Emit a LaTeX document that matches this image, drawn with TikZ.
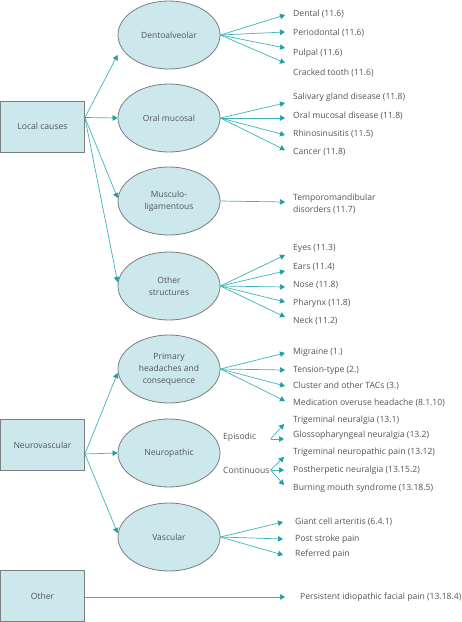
\documentclass[tikz,border=0pt]{standalone}
\usepackage{fontspec}
\setmainfont{Open Sans}
\usetikzlibrary{arrows.meta,shapes.geometric,calc}
\definecolor{teal1}{HTML}{3DB3BB}
\definecolor{tealhead}{HTML}{1E9EA8}
\definecolor{fillc}{HTML}{CCE8EC}
\definecolor{ellb}{HTML}{7A7F80}
\definecolor{txt}{HTML}{505558}
\begin{document}
\begin{tikzpicture}[x=1pt,y=-1pt,
  catbox/.style={draw=ellb,line width=0.8pt,fill=fillc,minimum width=84pt,minimum height=51pt,inner sep=0pt,font=\fontsize{8.6}{12}\selectfont,text=txt},
  ell/.style={ellipse,draw=ellb,line width=0.8pt,fill=fillc,minimum width=102pt,minimum height=68pt,inner sep=0pt,align=center,font=\fontsize{8.5}{12}\selectfont,text=txt},
  item/.style={anchor=west,inner sep=0pt,font=\fontsize{8.6}{12}\selectfont,text=txt,align=left},
  lbl/.style={anchor=west,inner sep=1pt,font=\fontsize{8.6}{12}\selectfont,text=txt},
  arr/.style={draw=teal1,line width=0.7pt,-{Triangle[length=5pt,width=5.5pt,color=tealhead]}}
]
\useasboundingbox (0,0) rectangle (462,622);

% category boxes
\node[catbox] (lc) at (42.5,126.5) {Local causes};
\node[catbox] (nv) at (42.5,445) {Neurovascular};
\node[catbox] (ot) at (42.5,596) {Other};

% ellipses
\node[ell] (dent) at (169,35) {Dentoalveolar};
\node[ell] (oral) at (169,118) {Oral mucosal};
\node[ell] (musc) at (169,201) {Musculo-\\ligamentous};
\node[ell] (oths) at (169,286) {Other\\structures};
\node[ell] (prim) at (169,369) {Primary\\headaches and\\consequence};
\node[ell] (neur) at (169,453) {Neuropathic};
\node[ell] (vasc) at (169,537) {Vascular};

% left connectors
\draw[arr] ([yshift=9pt]lc.east) -- ([yshift=-20pt]dent.west);
\draw[arr] ([yshift=9pt]lc.east) -- (oral.west);
\draw[arr] ([yshift=9pt]lc.east) -- ([yshift=3pt]musc.west);
\draw[arr] ([yshift=9pt]lc.east) -- ([yshift=4pt]oths.west);
\draw[arr] ([yshift=-9pt]nv.east) -- ([yshift=-4pt]prim.west);
\draw[arr] ([yshift=-9pt]nv.east) -- (neur.west);
\draw[arr] ([yshift=-9pt]nv.east) -- ([yshift=4pt]vasc.west);

% Dentoalveolar items
\node[item] (d1) at (293,14) {Dental (11.6)};
\node[item] (d2) at (293,33) {Periodontal (11.6)};
\node[item] (d3) at (293,53) {Pulpal (11.6)};
\node[item] (d4) at (293,73) {Cracked tooth (11.6)};
\draw[arr] (dent.east) -- ([xshift=-8pt,yshift=-1pt]d1.west);
\draw[arr] (dent.east) -- ([xshift=-8pt,yshift=1pt]d2.west);
\draw[arr] (dent.east) -- ([xshift=-8pt,yshift=5pt]d3.west);
\draw[arr] (dent.east) -- ([xshift=-8pt,yshift=10pt]d4.west);

% Oral mucosal items
\node[item] (o1) at (293,97) {Salivary gland disease (11.8)};
\node[item] (o2) at (293,116) {Oral mucosal disease (11.8)};
\node[item] (o3) at (293,134) {Rhinosinusitis (11.5)};
\node[item] (o4) at (293,152) {Cancer (11.8)};
\draw[arr] (oral.east) -- ([xshift=-8pt,yshift=-6pt]o1.west);
\draw[arr] (oral.east) -- ([xshift=-8pt,yshift=-2pt]o2.west);
\draw[arr] (oral.east) -- ([xshift=-8pt,yshift=-1pt]o3.west);
\draw[arr] (oral.east) -- ([xshift=-8pt,yshift=2pt]o4.west);

% Musculo-ligamentous
\node[item] (m1) at (293,204) {Temporomandibular\\disorders (11.7)};
\draw[arr] (musc.east) -- ([xshift=-8pt,yshift=2pt]m1.west);

% Other structures
\node[item] (s1) at (293,248) {Eyes (11.3)};
\node[item] (s2) at (293,267) {Ears (11.4)};
\node[item] (s3) at (293,285) {Nose (11.8)};
\node[item] (s4) at (293,303) {Pharynx (11.8)};
\node[item] (s5) at (293,321) {Neck (11.2)};
\draw[arr] (oths.east) -- ([xshift=-8pt,yshift=-7pt]s1.west);
\draw[arr] (oths.east) -- ([xshift=-8pt,yshift=-4pt]s2.west);
\draw[arr] (oths.east) -- ([xshift=-8pt,yshift=-2pt]s3.west);
\draw[arr] (oths.east) -- ([xshift=-8pt,yshift=1pt]s4.west);
\draw[arr] (oths.east) -- ([xshift=-8pt,yshift=4pt]s5.west);

% Primary headaches
\node[item] (p1) at (293,352) {Migraine (1.)};
\node[item] (p2) at (293,370) {Tension-type (2.)};
\node[item] (p3) at (293,386) {Cluster and other TACs (3.)};
\node[item] (p4) at (293,403) {Medication overuse headache (8.1.10)};
\draw[arr] (prim.east) -- ([xshift=-8pt,yshift=-1pt]p1.west);
\draw[arr] (prim.east) -- ([xshift=-8pt]p2.west);
\draw[arr] (prim.east) -- ([xshift=-8pt]p3.west);
\draw[arr] (prim.east) -- ([xshift=-8pt,yshift=2pt]p4.west);

% Neuropathic
\node[lbl] (ep) at (222,437) {Episodic};
\node[lbl] (co) at (222,470) {Continuous};
\node[item] (n1) at (293,420) {Trigeminal neuralgia (13.1)};
\node[item] (n2) at (293,435) {Glossopharyngeal neuralgia (13.2)};
\node[item] (n3) at (293,452) {Trigeminal neuropathic pain (13.12)};
\node[item] (n4) at (293,470) {Postherpetic neuralgia (13.15.2)};
\node[item] (n5) at (293,488) {Burning mouth syndrome (13.18.5)};
\draw[arr] ([yshift=-2pt]co.east |- ep.east) -- ([xshift=-9pt,yshift=-4pt]n1.west);
\draw[arr] ([yshift=-2pt]co.east |- ep.east) -- ([xshift=-9pt,yshift=-4pt]n2.west);
\draw[arr] (co.east) -- ([xshift=-9pt,yshift=-5pt]n3.west);
\draw[arr] (co.east) -- ([xshift=-9pt]n4.west);
\draw[arr] (co.east) -- ([xshift=-9pt,yshift=3pt]n5.west);

% Vascular
\node[item] (v1) at (295,522) {Giant cell arteritis (6.4.1)};
\node[item] (v2) at (295,539) {Post stroke pain};
\node[item] (v3) at (295,554) {Referred pain};
\draw[arr] (vasc.east) -- ([xshift=-12pt]v1.west);
\draw[arr] (vasc.east) -- ([xshift=-12pt]v2.west);
\draw[arr] (vasc.east) -- ([xshift=-12pt,yshift=-1pt]v3.west);

% Other
\node[item] (x1) at (300,597) {Persistent idiopathic facial pain (13.18.4)};
\draw[arr] (ot.east |- x1.west) -- ([xshift=-15pt]x1.west);
\end{tikzpicture}
\end{document}
